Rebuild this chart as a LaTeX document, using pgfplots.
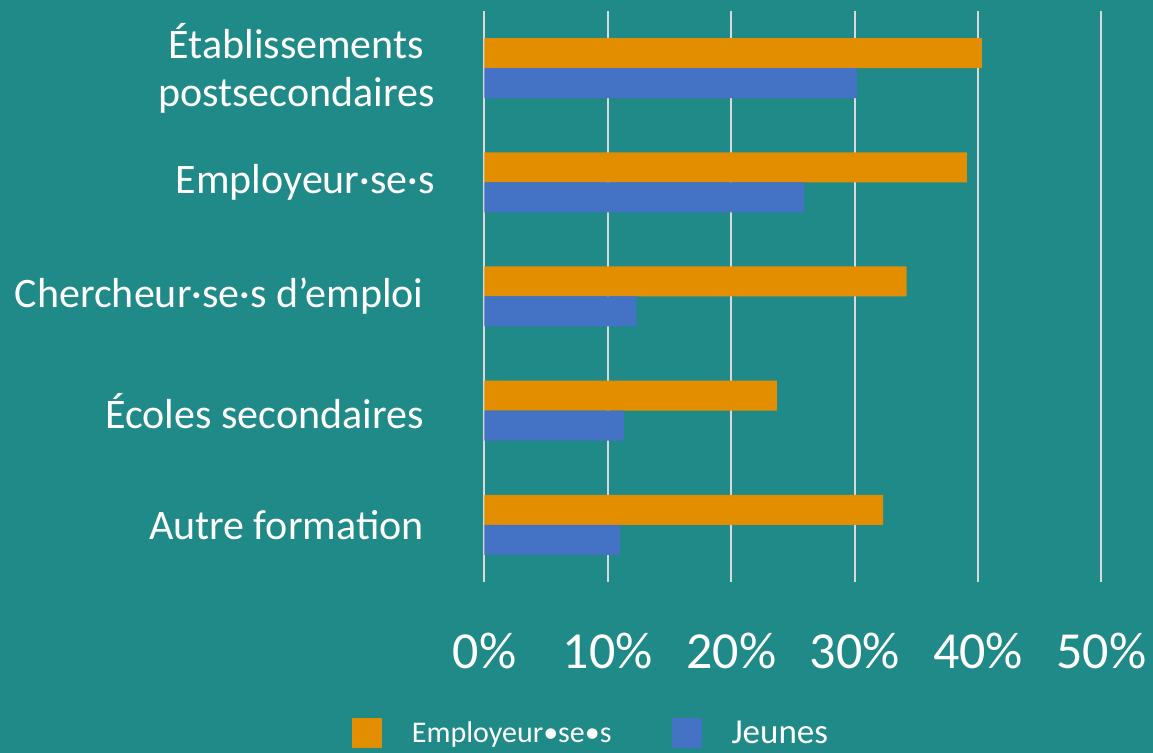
\documentclass[border=0pt]{standalone}
\usepackage{fontspec}
\setmainfont{Carlito}
\usepackage{pgfplots}
\pgfplotsset{compat=1.18}

\definecolor{bg}{HTML}{1F8A88}
\definecolor{orangebar}{HTML}{E38D00}
\definecolor{bluebar}{HTML}{4472C4}
\definecolor{gridc}{HTML}{D9D9D9}

\begin{document}
\begin{tikzpicture}
% page = 1153 x 753 px at 0.5pt per px
\fill[bg] (0,0) rectangle (576.5pt,376.5pt);
\useasboundingbox (0,0) rectangle (576.5pt,376.5pt);
\begin{axis}[
    at={(242.25pt,85.5pt)}, anchor=south west,
    scale only axis,
    width=308.5pt, height=285.5pt,
    xbar, bar width=15pt,
    xmin=0, xmax=50,
    ymin=-0.5, ymax=4.5,
    axis line style={draw=none},
    major tick length=0pt,
    xtick={0,10,20,30,40,50},
    xticklabels={0\%,10\%,20\%,30\%,40\%,50\%},
    xticklabel style={font=\fontsize{26}{30}\selectfont, text=white, inner sep=0pt, yshift=-25.5pt},
    ytick={0,1,2,3,4},
    yticklabels={Autre formation\hspace*{5.5pt},
                 Écoles secondaires\hspace*{5.5pt},
                 Chercheur·se·s d’emploi\hspace*{5.5pt},
                 Employeur·se·s,
                 {Établissements\\postsecondaires}},
    yticklabel style={font=\fontsize{21}{24}\selectfont, text=white, inner sep=0pt, xshift=-24.75pt, align=center},
    xmajorgrids, grid style={gridc, line width=1pt},
    legend columns=2,
    legend image code/.code={\fill[#1] (0pt,-7.5pt) rectangle (15pt,7.5pt);},
    legend style={at={(axis description cs:0.171,-0.238)}, anchor=north,
        draw=none, fill=none, text=white, inner sep=0pt,
        nodes={inner sep=0pt},
        /tikz/every odd column/.append style={column sep=15pt},
        /tikz/every even column/.append style={column sep=30pt}},
]
\addplot[fill=orangebar, draw=none, bar shift=7.5pt] coordinates {
    (32.3,0) (23.7,1) (34.2,2) (39.1,3) (40.3,4)
};
\addlegendentry{\fontsize{15}{18}\selectfont Employeur•se•s}
\addplot[fill=bluebar, draw=none, bar shift=-7.5pt] coordinates {
    (11.0,0) (11.3,1) (12.3,2) (25.9,3) (30.2,4)
};
\addlegendentry{\fontsize{17.5}{20}\selectfont Jeunes}
\end{axis}
\end{tikzpicture}
\end{document}
